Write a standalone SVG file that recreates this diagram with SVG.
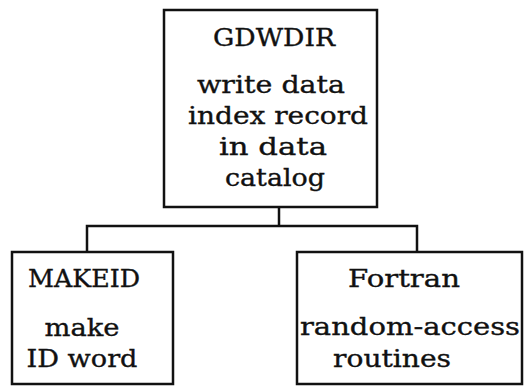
<svg xmlns="http://www.w3.org/2000/svg" width="527" height="386" viewBox="0 0 527 386">
  <style>
    .box { fill: #ffffff; stroke: #111111; stroke-width: 2.5; }
    .wire { fill: none; stroke: #111111; stroke-width: 2.5; stroke-linejoin: miter; }
    text { font-family: "DejaVu Serif", "Liberation Serif", serif; font-size: 24px; fill: #111111; stroke: #111111; stroke-width: 0.35; text-anchor: middle; }
  </style>
  <rect width="527" height="386" fill="#ffffff"/>

  <!-- tree connectors -->
  <g id="connectors">
    <path class="wire" d="M279 207 V226"/>
    <path class="wire" d="M87 252 V226 H417 V252"/>
  </g>

  <g id="gdwdir">
    <rect class="box" x="164" y="10" width="213" height="197"/>
    <text x="274" y="46" textLength="122" lengthAdjust="spacingAndGlyphs">GDWDIR</text>
    <text x="271" y="93" textLength="148" lengthAdjust="spacingAndGlyphs">write data</text>
    <text x="278" y="124" textLength="180" lengthAdjust="spacingAndGlyphs">index record</text>
    <text x="273" y="155" textLength="108" lengthAdjust="spacingAndGlyphs">in data</text>
    <text x="275" y="186" textLength="100" lengthAdjust="spacingAndGlyphs">catalog</text>
  </g>

  <g id="makeid">
    <rect class="box" x="12" y="252" width="161" height="132"/>
    <text x="84" y="287" textLength="112" lengthAdjust="spacingAndGlyphs">MAKEID</text>
    <text x="82" y="336" textLength="75" lengthAdjust="spacingAndGlyphs">make</text>
    <text x="82" y="367" textLength="111" lengthAdjust="spacingAndGlyphs">ID word</text>
  </g>

  <g id="fortran">
    <rect class="box" x="297" y="252" width="225" height="132"/>
    <text x="404" y="287" textLength="112" lengthAdjust="spacingAndGlyphs">Fortran</text>
    <text x="410" y="335" textLength="220" lengthAdjust="spacingAndGlyphs">random-access</text>
    <text x="392" y="367" textLength="118" lengthAdjust="spacingAndGlyphs">routines</text>
  </g>
</svg>
